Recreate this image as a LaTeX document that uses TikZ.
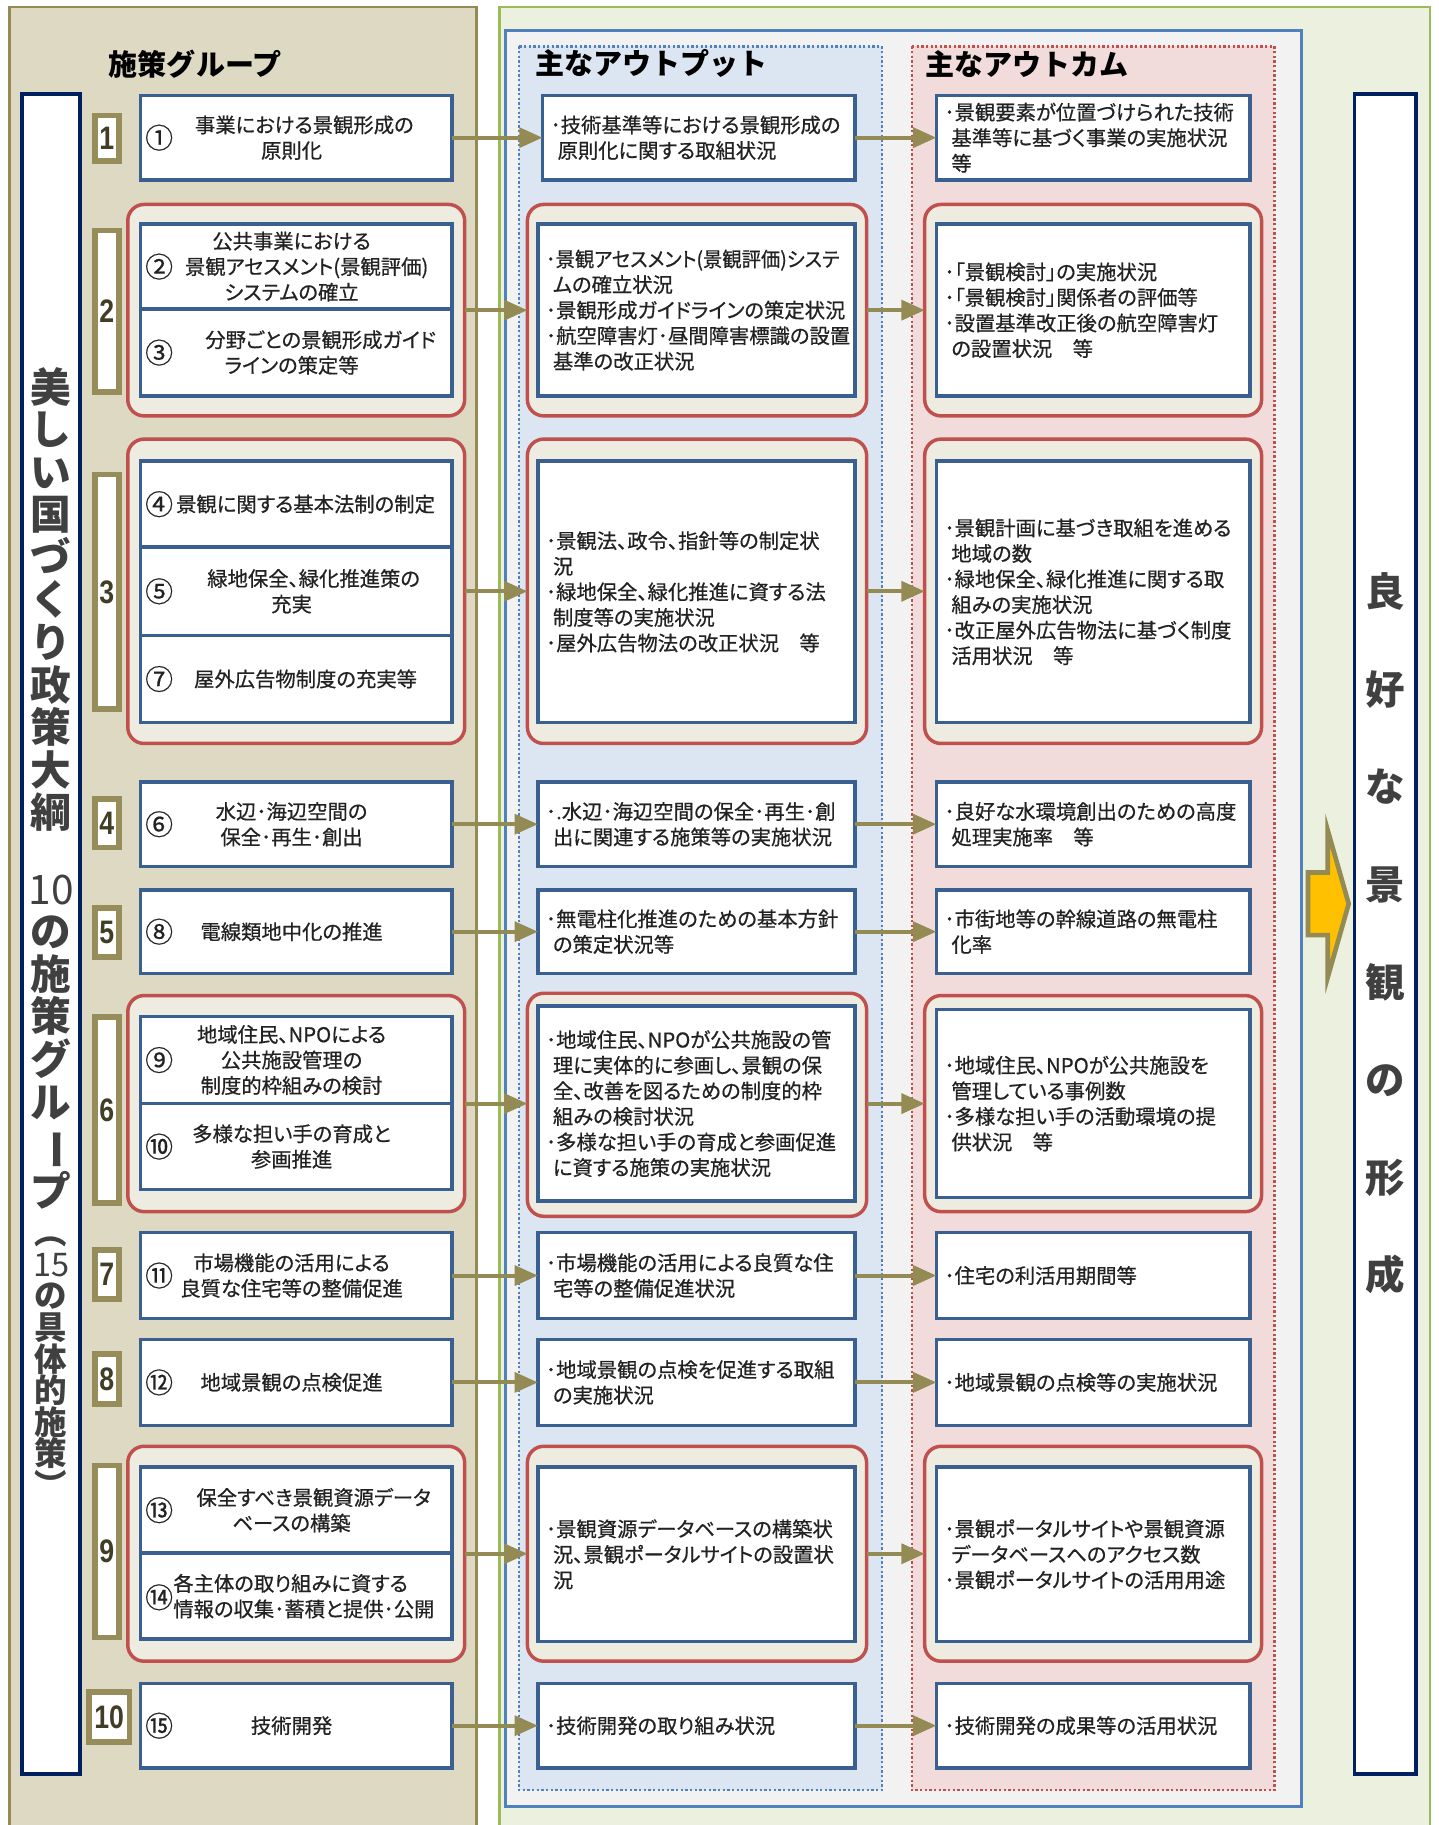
\documentclass[tikz,border=0pt]{standalone}
\usepackage{fontspec}
\usepackage{graphicx}
\setmainfont{Noto Sans CJK JP}[RawFeature=+palt, RawFeature={embolden=0.6}]
\newfontfamily\titlefont{Noto Sans CJK JP}
\newfontfamily\numfont{Liberation Sans}
\usetikzlibrary{arrows.meta}
\definecolor{tanfill}{HTML}{DDD9C3}
\definecolor{olive}{HTML}{948A54}
\definecolor{greenfill}{HTML}{EBF1DE}
\definecolor{greenline}{HTML}{9BBB59}
\definecolor{grayfill}{HTML}{F2F2F2}
\definecolor{blueline}{HTML}{4F81BD}
\definecolor{outfill}{HTML}{DCE6F2}
\definecolor{infill}{HTML}{F2DCDB}
\definecolor{redline}{HTML}{C0504D}
\definecolor{grpfill}{HTML}{EEECE1}
\definecolor{boxline}{HTML}{3A5F91}
\definecolor{navy}{HTML}{002060}
\definecolor{txt}{HTML}{222222}
\definecolor{vtxt}{HTML}{404040}
\definecolor{numtxt}{HTML}{423E26}
\definecolor{arrowfill}{HTML}{FFC000}
\definecolor{numline}{HTML}{968D5A}
\newcommand\cnt{\hspace*{6pt}}
\newcommand\bodysize{\fontsize{17.5}{22}\selectfont}
\tikzset{
  box/.style={draw=boxline, line width=3pt, fill=white, inner sep=0pt, outer sep=0pt},
  grp/.style={draw=redline, line width=3pt, fill=grpfill, rounded corners=14pt, inner sep=0pt, outer sep=0pt},
  ptext/.style={font=\bodysize, text=txt, align=center, inner sep=0pt},
  otext/.style={box, font=\bodysize, text=txt, align=left},
  cnum/.style={font=\fontsize{24}{24}\selectfont, text=txt, inner sep=0pt},
  numbox/.style={draw=numline, line width=5pt, fill=white, inner sep=0pt, outer sep=0pt, minimum width=21pt, font=\numfont\bfseries\fontsize{28}{28}\selectfont, text=numtxt},
  ttl/.style={font=\titlefont\bfseries\fontsize{25}{25}\selectfont, text=black, inner sep=0pt},
  flow/.style={draw=olive, line width=3.5pt, -{Triangle[length=20pt,width=17pt]}},
  vbox/.style={draw=navy, line width=3pt, fill=white, inner sep=0pt, outer sep=0pt},
  pw/.style={minimum width=268pt},
  ow/.style={minimum width=273pt, text width=259pt},
  cw/.style={minimum width=270pt, text width=256pt},
}
\begin{document}
\begin{tikzpicture}[x=1pt,y=-1pt]
\useasboundingbox (0,0) rectangle (1238,1571);
\fill[white] (0,0) rectangle (1238,1571);
% panels
\fill[greenfill] (430,6) rectangle (1231,1600);
\draw[greenline, line width=2.5pt] (430,1600) -- (430,6) -- (1231,6) -- (1231,1600);
\filldraw[fill=tanfill, draw=olive, line width=2.5pt] (8,6) rectangle (410,1600);
\filldraw[fill=grayfill, draw=blueline, line width=2.5pt] (435,26) rectangle (1120,1555);
\filldraw[fill=outfill, draw=blueline, line width=2pt, dash pattern=on 2pt off 2pt] (447,40) rectangle (759,1541);
\filldraw[fill=infill, draw=redline, line width=2pt, dash pattern=on 2pt off 2pt] (785,40) rectangle (1097,1541);
% titles
\node[ttl] (tg) at (168,55) {施策グループ};
\node[ttl] (tout) at (561,55) {主なアウトプット};
\node[ttl] (tin) at (884,55) {主なアウトカム};
% vertical boxes
\node[vbox, minimum width=50pt, minimum height=1446pt] (lv) at (44,804) {};
\node[font=\titlefont\bfseries\fontsize{35}{36.6}\selectfont, text=vtxt, align=center, inner sep=0pt] (vt1) at (44,516) {美\\し\\い\\国\\づ\\く\\り\\政\\策\\大\\綱};
\node[font=\titlefont\bfseries\fontsize{35}{36.6}\selectfont, text=vtxt, align=center, inner sep=0pt] (vt2) at (44,897) {{\mdseries 10}\\の\\施\\策\\グ\\ル\\\rotatebox[origin=c]{-90}{ー}\\プ};
\node[font=\titlefont\bfseries\fontsize{28}{27.2}\selectfont, text=vtxt, align=center, inner sep=0pt] (vt3) at (44,1177) {︵\\{\mdseries 15}\\の\\具\\体\\的\\施\\策\\︶};
\node[vbox, minimum width=53pt, minimum height=1446pt] (rv) at (1192.5,804) {};
\node[font=\titlefont\bfseries\fontsize{34}{84}\selectfont, text=vtxt, align=center, inner sep=0pt] (rt) at (1192.5,803.5) {良\\好\\な\\景\\観\\の\\形\\成};
% big arrow
\filldraw[fill=arrowfill, draw=olive, line width=4pt] (1126,751) -- (1143,751) -- (1143,715) -- (1161,778) -- (1143,841) -- (1143,805) -- (1126,805) -- cycle;
% ---------- groups ----------
\node[grp, minimum width=290pt, minimum height=182pt] (pg2) at (255,267) {};
\node[grp, minimum width=292pt, minimum height=182pt] (og2) at (600,267) {};
\node[grp, minimum width=290pt, minimum height=182pt] (cg2) at (941,267) {};
\node[grp, minimum width=290pt, minimum height=262pt] (pg3) at (255,509) {};
\node[grp, minimum width=292pt, minimum height=262pt] (og3) at (600,509) {};
\node[grp, minimum width=290pt, minimum height=262pt] (cg3) at (941,509) {};
\node[grp, minimum width=290pt, minimum height=186pt] (pg6) at (255,950) {};
\node[grp, minimum width=292pt, minimum height=192pt] (og6) at (600,951) {};
\node[grp, minimum width=290pt, minimum height=186pt] (cg6) at (941,950) {};
\node[grp, minimum width=290pt, minimum height=185pt] (pg9) at (255,1337.5) {};
\node[grp, minimum width=292pt, minimum height=185pt] (og9) at (600,1337.5) {};
\node[grp, minimum width=290pt, minimum height=185pt] (cg9) at (941,1337.5) {};
% ---------- row 1 ----------
\node[numbox, minimum height=39pt] (nb1) at (92,119) {\scalebox{0.82}[1]{1}};
\node[box, pw, minimum height=73pt] (p1) at (255,118.5) {};
\node[cnum] (n1) at (137,118.5) {①};
\node[ptext] (p1t) at (251,118.5) {\hspace*{22pt}事業における景観形成の\\原則化};
\node[otext, minimum width=269pt, text width=255pt, minimum height=73pt] (o1) at (601.5,118.5) {･技術基準等における景観形成の\\\cnt 原則化に関する取組状況};
\node[otext, cw, minimum height=73pt] (c1) at (941,118.5) {･景観要素が位置づけられた技術\\\cnt 基準等に基づく事業の実施状況\\\cnt 等};
% ---------- row 2 ----------
\node[numbox, minimum height=139pt] (nb2) at (92,268) {\scalebox{0.82}[1]{2}};
\node[box, pw, minimum height=73pt] (p2) at (255,229.5) {};
\node[box, pw, minimum height=75pt] (p3) at (255,303.5) {};
\node[cnum] (n2) at (137,229.5) {②};
\node[cnum] (n3) at (137,303.5) {③};
\node[ptext] (p2t) at (251,229.5) {公共事業における\\\hspace*{26pt}景観アセスメント(景観評価)\\システムの確立};
\node[ptext] (p3t) at (251,303.5) {\hspace*{50pt}分野ごとの景観形成ガイド\\ラインの策定等};
\node[otext, ow, minimum height=148pt] (o2) at (599.5,267) {\scalebox{0.95}[1]{･景観アセスメント(景観評価)システ}\\\cnt ムの確立状況\\･景観形成ガイドラインの策定状況\\･航空障害灯･昼間障害標識の設置\\\cnt 基準の改正状況};
\node[otext, cw, minimum height=148pt] (c2) at (941,267) {･「景観検討」の実施状況\\･「景観検討」関係者の評価等\\･設置基準改正後の航空障害灯\\\cnt の設置状況　等};
% ---------- row 3 ----------
\node[numbox, minimum height=202pt] (nb3) at (92,509.5) {\scalebox{0.82}[1]{3}};
\node[box, pw, minimum height=74pt] (p4) at (255,434) {};
\node[box, pw, minimum height=76pt] (p5) at (255,509) {};
\node[box, pw, minimum height=75pt] (p7) at (255,584.5) {};
\node[cnum] (n4) at (137,434) {④};
\node[cnum] (n5) at (137,509) {⑤};
\node[cnum] (n7) at (137,584.5) {⑦};
\node[ptext] (p4t) at (251,434) {\hspace*{24pt}景観に関する基本法制の制定};
\node[ptext] (p5t) at (251,509) {\hspace*{38pt}緑地保全、緑化推進策の\\充実};
\node[ptext] (p7t) at (251,584.5) {\hspace*{24pt}屋外広告物制度の充実等};
\node[otext, ow, minimum height=225pt] (o3) at (599.5,509.5) {･景観法、政令、指針等の制定状\\\cnt 況\\･緑地保全、緑化推進に資する法\\\cnt 制度等の実施状況\\･屋外広告物法の改正状況　等};
\node[otext, cw, minimum height=225pt] (c3) at (941,509.5) {･景観計画に基づき取組を進める\\\cnt 地域の数\\･緑地保全、緑化推進に関する取\\\cnt 組みの実施状況\\･改正屋外広告物法に基づく制度\\\cnt 活用状況　等};
% ---------- row 4 ----------
\node[numbox, minimum height=42pt] (nb4) at (92,708.5) {\scalebox{0.82}[1]{4}};
\node[box, pw, minimum height=73pt] (p6) at (255,709.5) {};
\node[cnum] (n6) at (137,709.5) {⑥};
\node[ptext] (p6t) at (251,709.5) {水辺･海辺空間の\\保全･再生･創出};
\node[otext, ow, minimum height=73pt] (o4) at (599.5,709.5) {･.水辺･海辺空間の保全･再生･創\\\cnt 出に関連する施策等の実施状況};
\node[otext, cw, minimum height=73pt] (c4) at (941,709.5) {･良好な水環境創出のための高度\\\cnt 処理実施率　等};
% ---------- row 5 ----------
\node[numbox, minimum height=42pt] (nb5) at (92,802.5) {\scalebox{0.82}[1]{5}};
\node[box, pw, minimum height=72pt] (p8) at (255,802) {};
\node[cnum] (n8) at (137,802) {⑧};
\node[ptext] (p8t) at (251,802) {電線類地中化の推進};
\node[otext, ow, minimum height=72pt] (o5) at (599.5,802) {･無電柱化推進のための基本方針\\\cnt の策定状況等};
\node[otext, cw, minimum height=72pt] (c5) at (941,802) {･市街地等の幹線道路の無電柱\\\cnt 化率};
% ---------- row 6 ----------
\node[numbox, minimum height=160pt] (nb6) at (92,955.5) {\scalebox{0.82}[1]{6}};
\node[box, pw, minimum height=75pt] (p9) at (255,912.5) {};
\node[box, pw, minimum height=74pt] (p10) at (255,987) {};
\node[cnum] (n9) at (137,912.5) {⑨};
\node[cnum] (n10) at (137,987) {⑩};
\node[ptext] (p9t) at (251,912.5) {地域住民、NPOによる\\公共施設管理の\\制度的枠組みの検討};
\node[ptext] (p10t) at (251,987) {多様な担い手の育成と\\参画推進};
\node[otext, ow, minimum height=168pt] (o6) at (599.5,950) {･地域住民、NPOが公共施設の管\\\cnt 理に実体的に参画し、景観の保\\\cnt 全、改善を図るための制度的枠\\\cnt 組みの検討状況\\･多様な担い手の育成と参画促進\\\cnt に資する施策の実施状況};
\node[otext, cw, minimum height=162pt] (c6) at (941,950) {･地域住民、NPOが公共施設を\\\cnt 管理している事例数\\･多様な担い手の活動環境の提\\\cnt 供状況　等};
% ---------- row 7 ----------
\node[numbox, minimum height=42pt] (nb7) at (92,1097) {\scalebox{0.82}[1]{7}};
\node[box, pw, minimum height=74pt] (p11) at (255,1098) {};
\node[cnum] (n11) at (137,1098) {⑪};
\node[ptext] (p11t) at (251,1098) {市場機能の活用による\\良質な住宅等の整備促進};
\node[otext, ow, minimum height=74pt] (o7) at (599.5,1098) {･市場機能の活用による良質な住\\\cnt 宅等の整備促進状況};
\node[otext, cw, minimum height=74pt] (c7) at (941,1098) {･住宅の利活用期間等};
% ---------- row 8 ----------
\node[numbox, minimum height=43pt] (nb8) at (92,1187) {\scalebox{0.82}[1]{8}};
\node[box, pw, minimum height=74pt] (p12) at (255,1190) {};
\node[cnum] (n12) at (137,1190) {⑫};
\node[ptext] (p12t) at (251,1190) {地域景観の点検促進};
\node[otext, ow, minimum height=74pt] (o8) at (599.5,1190) {･地域景観の点検を促進する取組\\\cnt の実施状況};
\node[otext, cw, minimum height=74pt] (c8) at (941,1190) {･地域景観の点検等の実施状況};
% ---------- row 9 ----------
\node[numbox, minimum height=148pt] (nb9) at (92,1335.5) {\scalebox{0.82}[1]{9}};
\node[box, pw, minimum height=74pt] (p13) at (255,1300) {};
\node[box, pw, minimum height=74pt] (p14) at (255,1374) {};
\node[cnum] (n13) at (137,1300) {⑬};
\node[cnum] (n14) at (137,1375) {⑭};
\node[ptext] (p13t) at (251,1300) {\hspace*{38pt}保全すべき景観資源データ\\ベースの構築};
\node[ptext, align=left, anchor=west] (p14t) at (149,1374) {各主体の取り組みに資する\\情報の収集･蓄積と提供･公開};
\node[otext, ow, minimum height=150pt] (o9) at (599.5,1338) {･景観資源データベースの構築状\\\cnt 況、景観ポータルサイトの設置状\\\cnt 況};
\node[otext, cw, minimum height=150pt] (c9) at (941,1338) {･景観ポータルサイトや景観資源\\\cnt データベースへのアクセス数\\･景観ポータルサイトの活用用途};
% ---------- row 10 ----------
\node[numbox, minimum width=35pt, minimum height=43pt] (nb10) at (94,1478) {\scalebox{0.82}[1]{10}};
\node[box, pw, minimum height=73pt] (p15) at (255,1485.5) {};
\node[cnum] (n15) at (137,1485.5) {⑮};
\node[ptext] (p15t) at (251,1485.5) {技術開発};
\node[otext, ow, minimum height=73pt] (o10) at (599.5,1485.5) {･技術開発の取り組み状況};
\node[otext, cw, minimum height=73pt] (c10) at (941,1485.5) {･技術開発の成果等の活用状況};
% ---------- connectors ----------
\draw[flow] (p1.east) -- (o1.west |- p1.east);
\draw[flow] (o1.east) -- (c1.west |- o1.east);
\draw[flow] (pg2.east) -- (og2.west |- pg2.east);
\draw[flow] (og2.east) -- (cg2.west |- og2.east);
\draw[flow] (pg3.east) -- (og3.west |- pg3.east);
\draw[flow] (og3.east) -- (cg3.west |- og3.east);
\draw[flow] (p6.east) -- (o4.west |- p6.east);
\draw[flow] (o4.east) -- (c4.west |- o4.east);
\draw[flow] (p8.east) -- (o5.west |- p8.east);
\draw[flow] (o5.east) -- (c5.west |- o5.east);
\draw[flow] (pg6.east) -- (og6.west |- pg6.east);
\draw[flow] (og6.east |- pg6.east) -- (cg6.west |- pg6.east);
\draw[flow] (p11.east) -- (o7.west |- p11.east);
\draw[flow] (o7.east) -- (c7.west |- o7.east);
\draw[flow] (p12.east) -- (o8.west |- p12.east);
\draw[flow] (o8.east) -- (c8.west |- o8.east);
\draw[flow] (pg9.east) -- (og9.west |- pg9.east);
\draw[flow] (og9.east) -- (cg9.west |- og9.east);
\draw[flow] (p15.east) -- (o10.west |- p15.east);
\draw[flow] (o10.east) -- (c10.west |- o10.east);
\end{tikzpicture}
\end{document}
